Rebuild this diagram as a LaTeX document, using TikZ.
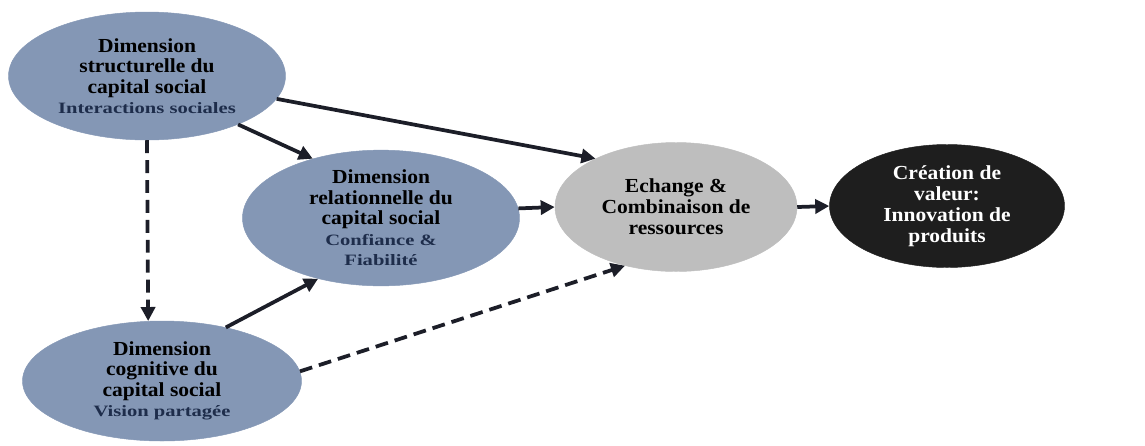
\documentclass[tikz,border=0pt]{standalone}
\usepackage{fontspec}
\setmainfont{Liberation Serif}[FakeStretch=1.08]
\newfontfamily\subfont{Liberation Serif}[FakeStretch=1.3]
\usetikzlibrary{shapes.geometric,arrows.meta}
\definecolor{dimblue}{RGB}{132,151,181}
\definecolor{exgrey}{RGB}{190,190,190}
\definecolor{valblack}{RGB}{30,30,30}
\definecolor{subnavy}{RGB}{30,45,75}
\definecolor{linedark}{RGB}{28,30,40}
\newcommand{\subtxt}[1]{{\subfont\fontsize{13.5}{16}\selectfont\color{subnavy}#1}}
\tikzstyle{dim} = [ellipse, minimum width=8.31cm, minimum height=3.84cm, inner sep=0pt, align=center, font=\bfseries\fontsize{17}{17.5}\selectfont, text=black, fill=dimblue, draw=dimblue]
\tikzstyle{exch} = [ellipse, minimum width=7.26cm, minimum height=3.87cm, inner sep=0pt, align=center, font=\bfseries\fontsize{17}{18}\selectfont, text=black, fill=exgrey, draw=exgrey]
\tikzstyle{value} = [ellipse, minimum width=7.05cm, minimum height=3.69cm, inner sep=0pt, align=center, font=\bfseries\fontsize{17}{18}\selectfont, text=white, fill=valblack, draw=valblack]
\tikzstyle{arrow} = [line width=3.2pt, draw=linedark, -{Triangle[length=12pt,width=12pt]}]
\tikzstyle{darrow} = [arrow, dash pattern=on 11pt off 6pt]

\begin{document}
\begin{tikzpicture}[node distance=4.5cm]
\useasboundingbox (0,0) rectangle (34.35,-13.35);
\node (Struct)[dim] at (4.41,-2.28){Dimension\\structurelle du\\capital social\\\subtxt{Interactions sociales}};
\node (Rel)[dim, below of=Struct, xshift=7.02cm, yshift=0.24cm]{Dimension\\relationnelle du\\capital social\\\subtxt{Confiance \&}\\\subtxt{Fiabilité}};
\node (Cog)[dim, minimum width=8.37cm, minimum height=3.6cm, below of=Rel, xshift=-6.57cm, yshift=-0.39cm]{Dimension\\cognitive du\\capital social\\\subtxt{Vision partagée}};
\node (Exch)[exch, right of=Rel, xshift=4.35cm, yshift=0.33cm]{Echange \&\\Combinaison de\\ressources};
\node (Value)[value, right of=Exch, xshift=3.63cm, yshift=0.03cm]{Création de\\valeur:\\Innovation de\\produits};

\draw [arrow](Struct.-10) -- (Exch.149);
\draw [arrow](Struct.-28) -- (Rel.139);
\draw [darrow](Struct.south) -- (Cog.103);
\draw [arrow](Rel.4) -- (Exch.west);
\draw [arrow](Cog.40) -- (Rel.-136);
\draw [darrow](Cog.4) -- (Exch.-131);
\draw [arrow](Exch.east) -- (Value.west);
\end{tikzpicture}
\end{document}
